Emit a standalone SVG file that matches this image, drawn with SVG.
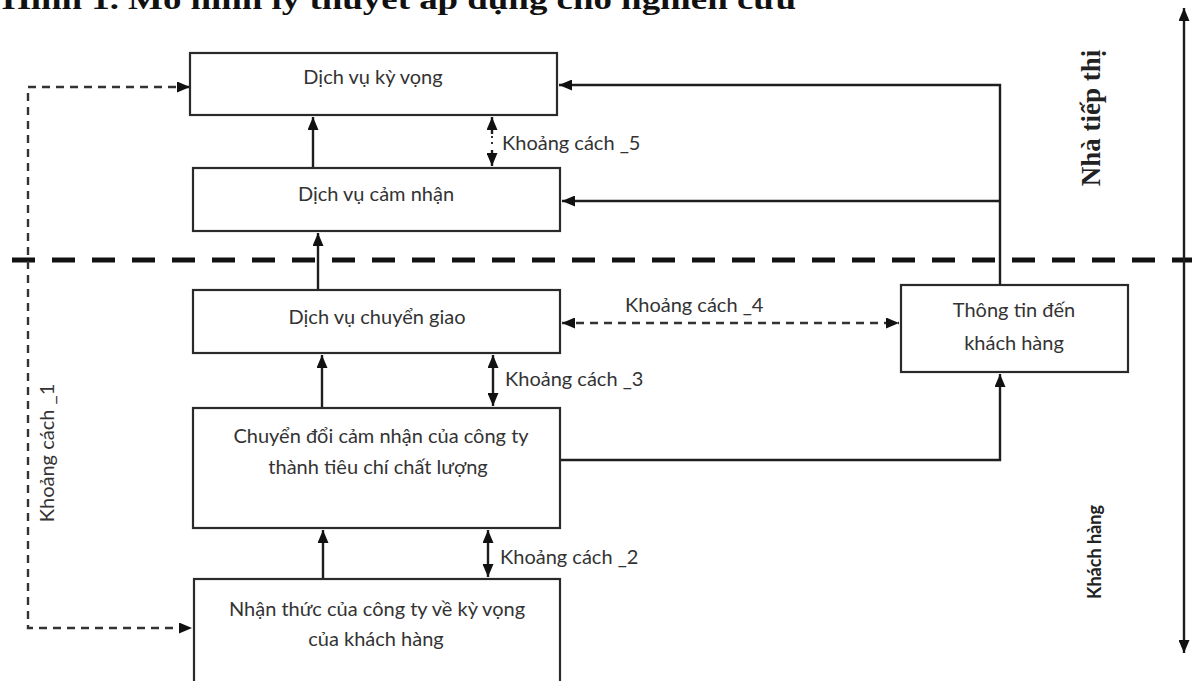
<svg xmlns="http://www.w3.org/2000/svg" width="1192" height="681" viewBox="0 0 1192 681">
  <style>
    .box { fill: #ffffff; stroke: #2a2a2a; stroke-width: 2.2; }
    .lbl { font-family: Lato, "Liberation Sans", sans-serif; font-size: 20px; fill: #333333; }
    .mid { text-anchor: middle; }
    .ln { fill: none; stroke: #1e1e1e; stroke-width: 2.4; }
    .dash { fill: none; stroke: #333333; stroke-width: 2.4; stroke-dasharray: 8 6; }
    .title { font-family: "Liberation Serif", serif; font-weight: bold; font-size: 30px; fill: #111111; }
  </style>
  <defs>
    <marker id="ah" viewBox="0 0 13 11" refX="13" refY="5.5" markerWidth="13" markerHeight="11" markerUnits="userSpaceOnUse" orient="auto-start-reverse">
      <path d="M0,0 L13,5.5 L0,11 Z" fill="#111111"/>
    </marker>
  </defs>

  <rect width="1192" height="681" fill="#ffffff"/>

  <!-- caption, partly above the top edge -->
  <text class="title" x="2" y="9" textLength="794" lengthAdjust="spacingAndGlyphs">Hình 1. Mô hình lý thuyết áp dụng cho nghiên cứu</text>

  <!-- boundary between marketer and customer -->
  <line x1="12" y1="260" x2="1192" y2="260" stroke="#111111" stroke-width="5" stroke-dasharray="23 17"/>

  <!-- side axis -->
  <g id="axis">
    <line class="ln" x1="1184" y1="8" x2="1184" y2="653" marker-start="url(#ah)" marker-end="url(#ah)"/>
    <text transform="translate(1100,118) rotate(-90)" text-anchor="middle" font-family="Liberation Serif, serif" font-weight="bold" font-size="27" fill="#222222">Nhà tiếp thị</text>
    <text transform="translate(1101,552) rotate(-90)" text-anchor="middle" font-family="Lato, Liberation Sans, sans-serif" font-weight="bold" font-size="18" fill="#222222">Khách hàng</text>
  </g>

  <g id="connectors">
    <!-- upward flow -->
    <line class="ln" x1="313" y1="168" x2="313" y2="117" marker-end="url(#ah)"/>
    <line class="ln" x1="318" y1="290" x2="318" y2="233" marker-end="url(#ah)"/>
    <line class="ln" x1="322" y1="408" x2="322" y2="355" marker-end="url(#ah)"/>
    <line class="ln" x1="323" y1="579" x2="323" y2="530" marker-end="url(#ah)"/>

    <!-- gaps -->
    <line class="ln" x1="492" y1="117" x2="492" y2="134" marker-start="url(#ah)"/>
    <line x1="492" y1="136" x2="492" y2="148" stroke="#333" stroke-width="2" stroke-dasharray="2 4"/>
    <line class="ln" x1="492" y1="150" x2="492" y2="166" marker-end="url(#ah)"/>
    <line class="ln" x1="493" y1="355" x2="493" y2="406" marker-start="url(#ah)" marker-end="url(#ah)"/>
    <line class="ln" x1="488" y1="530" x2="488" y2="577" marker-start="url(#ah)" marker-end="url(#ah)"/>
    <line class="dash" x1="562" y1="323" x2="899" y2="323" marker-start="url(#ah)" marker-end="url(#ah)"/>
    <polyline class="dash" points="190,87 28,87 28,628 192,628" marker-start="url(#ah)" marker-end="url(#ah)"/>

    <!-- information to customer -->
    <polyline class="ln" points="560,460 1000,460 1000,374" marker-end="url(#ah)"/>
    <polyline class="ln" points="1000,285 1000,85 559,85" marker-end="url(#ah)"/>
    <line class="ln" x1="1000" y1="201" x2="562" y2="201" marker-end="url(#ah)"/>

    <text class="lbl" x="502" y="150">Khoảng cách _5</text>
    <text class="lbl" x="625" y="312">Khoảng cách _4</text>
    <text class="lbl" x="505" y="386">Khoảng cách _3</text>
    <text class="lbl" x="500" y="564">Khoảng cách _2</text>
    <text class="lbl mid" transform="translate(54,453) rotate(-90)">Khoảng cách _1</text>
  </g>

  <g id="expected">
    <rect class="box" x="190" y="53" width="367" height="62"/>
    <text class="lbl mid" x="373" y="84">Dịch vụ kỳ vọng</text>
  </g>
  <g id="perceived">
    <rect class="box" x="193" y="168" width="367" height="63"/>
    <text class="lbl mid" x="376" y="201">Dịch vụ cảm nhận</text>
  </g>
  <g id="delivered">
    <rect class="box" x="193" y="290" width="367" height="63"/>
    <text class="lbl mid" x="377" y="324">Dịch vụ chuyển giao</text>
  </g>
  <g id="standards">
    <rect class="box" x="193" y="408" width="367" height="120"/>
    <text class="lbl mid" x="381" y="443">Chuyển đổi cảm nhận của công ty</text>
    <text class="lbl mid" x="378" y="474">thành tiêu chí chất lượng</text>
  </g>
  <g id="perception">
    <rect class="box" x="194" y="579" width="366" height="110"/>
    <text class="lbl mid" x="377" y="616">Nhận thức của công ty về kỳ vọng</text>
    <text class="lbl mid" x="376" y="646">của khách hàng</text>
  </g>
  <g id="communication">
    <rect class="box" x="901" y="285" width="227" height="87"/>
    <text class="lbl mid" x="1014" y="317">Thông tin đến</text>
    <text class="lbl mid" x="1014" y="350">khách hàng</text>
  </g>
</svg>
